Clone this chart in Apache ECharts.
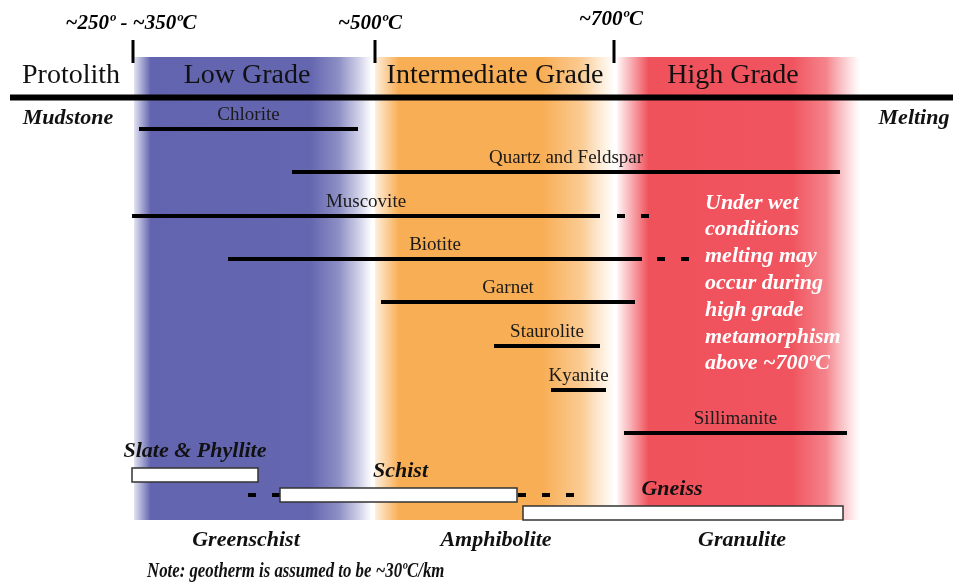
<!DOCTYPE html>
<html><head><meta charset="utf-8">
<script src="https://cdn.jsdelivr.net/npm/echarts/dist/echarts.min.js"></script>
<style>html,body{margin:0;padding:0;background:#fff}#c{width:953px;height:583px}</style>
</head><body><div id="c"></div>
<script>
// ---------------- data ----------------
const gradeNames = ['Low Grade', 'Intermediate Grade', 'High Grade'];
const gradeFrom = [134, 375, 617];
const gradeTo = [372, 615, 860];

const boundaryAt = [133, 375, 614];
const boundaryLabels = ['~250º - ~350ºC', '~500ºC', '~700ºC'];

const minerals = ['Chlorite', 'Quartz and Feldspar', 'Muscovite', 'Biotite', 'Garnet', 'Staurolite', 'Kyanite', 'Sillimanite'];
const mineralFrom = [139, 292, 132, 228, 381, 494, 551, 624];
const mineralTo = [358, 840, 600, 642, 635, 600, 606, 847];
const mineralRow = [129, 172, 216, 259, 302, 346, 390, 433];

const dashedMinerals = ['Muscovite', 'Biotite'];
const dashedFrom = [617, 657];
const dashedTo = [649, 690];

const rocks = ['Slate & Phyllite', 'Schist', 'Gneiss'];
const rockFrom = [132, 280, 523];
const rockTo = [258, 517, 843];
const rockRow = [475, 495, 513];

const rockDashRock = ['Schist', 'Schist'];
const rockDashFrom = [248, 518];
const rockDashTo = [280, 575];

const facies = ['Greenschist', 'Amphibolite', 'Granulite'];
const wetNote = ['Under wet', 'conditions', 'melting may', 'occur during', 'high grade', 'metamorphism', 'above ~700ºC'];

// ---------------- layout / style ----------------
const L = {
  bandTop: 57, bandBottom: 520,
  ruleY: 97.5, ruleFrom: 10, ruleTo: 953,
  tickTop: 40, tickBottom: 63,
  boundaryLabelY: [24, 24, 20], boundaryLabelX: [131, 370, 611],
  gradeLabelX: [247, 495, 733], gradeLabelY: 76,
  faciesX: [246, 496, 742], faciesY: 540,
  rockLabelDx: [0, 2, -11], rockLabelDy: -24,
  wetX: 705, wetY0: 203, wetStep: 26.8
};
const serif = '"Liberation Serif", "Times New Roman", serif';
const bandColors = [
  [[0, 'rgba(98,100,175,0.18)'], [0.07, 'rgba(98,100,175,1)'], [0.74, 'rgba(100,102,176,1)'], [0.86, 'rgba(112,114,182,0.8)'], [0.94, 'rgba(125,127,190,0.4)'], [1, 'rgba(130,132,195,0)']],
  [[0, 'rgba(248,174,85,0.2)'], [0.1, 'rgba(248,174,85,1)'], [0.7, 'rgba(248,174,85,1)'], [0.86, 'rgba(249,185,110,0.75)'], [1, 'rgba(250,200,140,0)']],
  [[0, 'rgba(240,82,92,0.05)'], [0.13, 'rgba(240,82,92,1)'], [0.72, 'rgba(240,84,94,1)'], [0.86, 'rgba(242,100,110,0.8)'], [1, 'rgba(245,130,140,0)']]
];

const chart = echarts.init(document.getElementById('c'), null, { renderer: 'canvas' });

function txt(api, x, y, text, font, opts, scaleX) {
  const p = api.coord([x, y]);
  return {
    type: 'text', x: p[0], y: p[1], scaleX: scaleX || 1,
    style: Object.assign({ text, x: 0, y: 0, font, fill: '#111', align: 'center', verticalAlign: 'middle' }, opts || {})
  };
}

const option = {
  animation: false,
  grid: { left: 0, right: 0, top: 0, bottom: 0 },
  xAxis: { type: 'value', min: 0, max: 953, show: false },
  yAxis: { type: 'value', min: 0, max: 583, inverse: true, show: false },
  series: [
    { // grade bands
      type: 'custom', silent: true, z: 1,
      data: gradeNames.map((n, i) => [gradeFrom[i], gradeTo[i]]),
      renderItem(params, api) {
        const a = api.coord([api.value(0), L.bandTop]);
        const b = api.coord([api.value(1), L.bandBottom]);
        return {
          type: 'rect', shape: { x: a[0], y: a[1], width: b[0] - a[0], height: b[1] - a[1] },
          style: { fill: { type: 'linear', x: 0, y: 0, x2: 1, y2: 0, colorStops: bandColors[params.dataIndex].map(s => ({ offset: s[0], color: s[1] })) } }
        };
      }
    },
    { // main rule, boundary ticks & labels, grade names
      type: 'custom', silent: true, z: 3,
      data: boundaryAt.map((x, i) => [x, i]),
      renderItem(params, api) {
        const i = params.dataIndex;
        const t1 = api.coord([api.value(0), L.tickTop]);
        const t2 = api.coord([api.value(0), L.tickBottom]);
        const children = [
          { type: 'line', shape: { x1: t1[0], y1: t1[1], x2: t2[0], y2: t2[1] }, style: { stroke: '#000', lineWidth: 3 } },
          txt(api, L.boundaryLabelX[i], L.boundaryLabelY[i], boundaryLabels[i], 'italic bold 21px ' + serif, { fill: '#000' }),
          txt(api, L.gradeLabelX[i], L.gradeLabelY, gradeNames[i], '28px ' + serif)
        ];
        if (i === 0) {
          const r1 = api.coord([L.ruleFrom, L.ruleY]);
          const r2 = api.coord([L.ruleTo, L.ruleY]);
          children.push({ type: 'line', shape: { x1: r1[0], y1: r1[1], x2: r2[0], y2: r2[1] }, style: { stroke: '#000', lineWidth: 6 } });
        }
        return { type: 'group', children };
      }
    },
    { // minerals
      type: 'custom', silent: true, z: 4,
      data: minerals.map((m, i) => [mineralFrom[i], mineralTo[i], mineralRow[i]]),
      renderItem(params, api) {
        const a = api.coord([api.value(0), api.value(2)]);
        const b = api.coord([api.value(1), api.value(2)]);
        return {
          type: 'group', children: [
            { type: 'line', shape: { x1: a[0], y1: a[1], x2: b[0], y2: b[1] }, style: { stroke: '#000', lineWidth: 4 } },
            txt(api, (api.value(0) + api.value(1)) / 2, api.value(2) - 14, minerals[params.dataIndex], '19px ' + serif, { fill: '#1a1a1a' })
          ]
        };
      }
    },
    { // dashed mineral extensions
      type: 'custom', silent: true, z: 4,
      data: dashedMinerals.map((m, i) => [dashedFrom[i], dashedTo[i], mineralRow[minerals.indexOf(m)]]),
      renderItem(params, api) {
        const a = api.coord([api.value(0), api.value(2)]);
        const b = api.coord([api.value(1), api.value(2)]);
        return { type: 'line', shape: { x1: a[0], y1: a[1], x2: b[0], y2: b[1] }, style: { stroke: '#000', lineWidth: 4, lineDash: [8, 16] } };
      }
    },
    { // rock dashed extensions
      type: 'custom', silent: true, z: 4,
      data: rockDashRock.map((r, i) => [rockDashFrom[i], rockDashTo[i], rockRow[rocks.indexOf(r)]]),
      renderItem(params, api) {
        const a = api.coord([api.value(0), api.value(2)]);
        const b = api.coord([api.value(1), api.value(2)]);
        return { type: 'line', shape: { x1: a[0], y1: a[1], x2: b[0], y2: b[1] }, style: { stroke: '#000', lineWidth: 4, lineDash: [8, 16] } };
      }
    },
    { // rocks
      type: 'custom', silent: true, z: 5,
      data: rocks.map((r, i) => [rockFrom[i], rockTo[i], rockRow[i]]),
      renderItem(params, api) {
        const i = params.dataIndex;
        const a = api.coord([api.value(0), api.value(2) - 7]);
        const b = api.coord([api.value(1), api.value(2) + 7]);
        return {
          type: 'group', children: [
            { type: 'rect', shape: { x: a[0], y: a[1], width: b[0] - a[0], height: b[1] - a[1] }, style: { fill: '#fff', stroke: '#333', lineWidth: 1.5 } },
            txt(api, (api.value(0) + api.value(1)) / 2 + L.rockLabelDx[i], api.value(2) + L.rockLabelDy, rocks[i], 'italic bold 22px ' + serif, { fill: '#111' })
          ]
        };
      }
    },
    { // facies & other annotations
      type: 'custom', silent: true, z: 6,
      data: facies.map((f, i) => [i]),
      renderItem(params, api) {
        const i = params.dataIndex;
        const children = [txt(api, L.faciesX[i], L.faciesY, facies[i], 'italic bold 22px ' + serif)];
        if (i === 0) {
          children.push(txt(api, 71, L.gradeLabelY, 'Protolith', '28px ' + serif));
          children.push(txt(api, 68, 118, 'Mudstone', 'italic bold 22px ' + serif));
          children.push(txt(api, 914, 118, 'Melting', 'italic bold 22px ' + serif));
          children.push(txt(api, 147, 572, 'Note: geotherm is assumed to be ~30ºC/km', 'italic bold 21px ' + serif, { align: 'left' }, 0.8));
          wetNote.forEach((line, k) => children.push(txt(api, L.wetX, L.wetY0 + k * L.wetStep, line, 'italic bold 22px ' + serif, { align: 'left', fill: '#fff' })));
        }
        return { type: 'group', children };
      }
    }
  ]
};
chart.setOption(option);
</script></body></html>
